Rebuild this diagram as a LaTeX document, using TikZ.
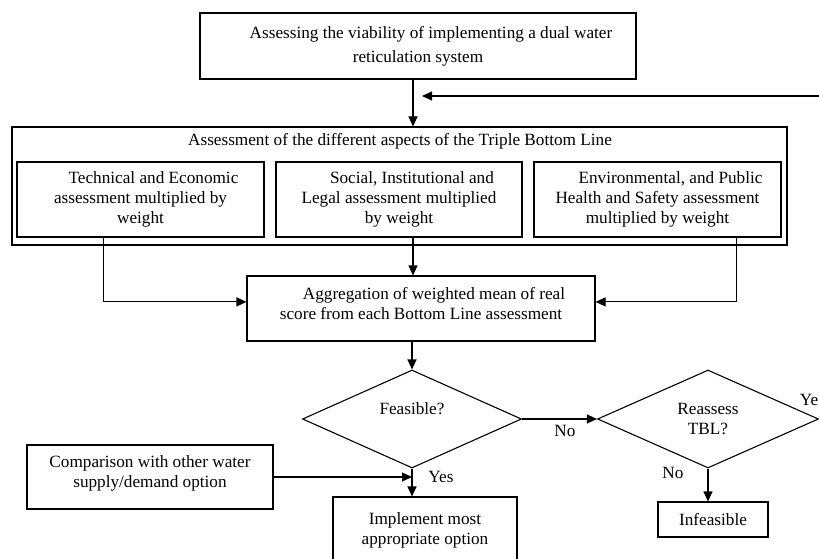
\documentclass[tikz,border=0pt]{standalone}
\usepackage{fontspec}
\setmainfont{Liberation Serif}
\usetikzlibrary{arrows.meta,calc,shapes.geometric}

\begin{document}
\begin{tikzpicture}[x=1pt,y=-1pt,line width=1.1pt]
\tikzset{every node/.style={font=\fontsize{17.2}{20}\selectfont},
  box/.style={draw,align=center,inner sep=0pt},
  decision/.style={draw,diamond,aspect=2.2,inner sep=0pt,align=center},
  flow/.style={-{Triangle[length=10pt,width=9pt]}}}
\def\ind{\hspace*{26pt}}
\useasboundingbox(0,0)rectangle(819,559);
\clip(0,0)rectangle(819,559);

\node[box,minimum width=436pt,minimum height=66pt](viability)at(418,46)
  {\ind Assessing the viability of implementing a dual water\\[4pt]reticulation system};
\node[box,minimum width=775pt,minimum height=118pt](tbl)at(399.5,186){};
\node(tbltitle)at(400,141){Assessment of the different aspects of the Triple Bottom Line};
\node[box,minimum width=247pt,minimum height=75pt](tech)at(140.5,199.5)
  {\ind Technical and Economic\\assessment multiplied by\\weight};
\node[box,minimum width=246pt,minimum height=75pt](social)at(399,199.5)
  {\ind Social, Institutional and\\Legal assessment multiplied\\by weight};
\node[box,minimum width=247pt,minimum height=75pt](env)at(657.5,199.5)
  {\ind Environmental, and Public\\Health and Safety assessment\\multiplied by weight};
\node[box,minimum width=348pt,minimum height=65pt](aggregation)at(421,308.5)
  {\ind Aggregation of weighted mean of real\\score from each Bottom Line assessment\\[-10pt]\mbox{}};
\node[decision,minimum width=219pt,minimum height=98pt](feasible)at(412,419){Feasible?\\\mbox{}};
\node[decision,minimum width=221pt,minimum height=98pt](reassess)at(708,419){Reassess\\TBL?};
\node[box,minimum width=246pt,minimum height=64pt](comparison)at(150,477)
  {Comparison with other water\\supply/demand option\\[-10pt]\mbox{}};
\node[box,minimum width=184pt,minimum height=66pt](implement)at(425,530)
  {Implement most\\appropriate option};
\node[box,minimum width=110pt,minimum height=35pt](infeasible)at(713,519.5){Infeasible};

% connectors
\coordinate(spine)at(413,0);
\coordinate(loop)at(850,96);
\coordinate(loopend)at(422,96);
\draw[flow](viability.south-|spine)--(tbl.north-|spine);
\draw[flow](reassess.east)--(reassess.east-|loop)--(loop)--(loopend);
\draw[flow](social.south-|spine)--(aggregation.north-|spine);
\draw[flow]($(tech.south west)!.35!(tech.south east)$)|-($(aggregation.north west)!.4!(aggregation.south west)$);
\draw[flow]($(env.south west)!.82!(env.south east)$)|-($(aggregation.north east)!.4!(aggregation.south east)$);
\draw[flow](aggregation.south-|feasible.north)--(feasible.north);
\draw[flow](feasible.south)--(feasible.south|-implement.north);
\draw[flow](comparison.east)--(comparison.east-|feasible.south);
\draw[flow](feasible.east)--(reassess.west);
\draw[flow](reassess.south)--(reassess.south|-infeasible.north);

\node(yesfeas)at(441,477){Yes};
\node(nofeas)at(565,431){No};
\node(noreass)at(673,473){No};
\node(yesreass)at(812.5,400){Yes};
\end{tikzpicture}
\end{document}
